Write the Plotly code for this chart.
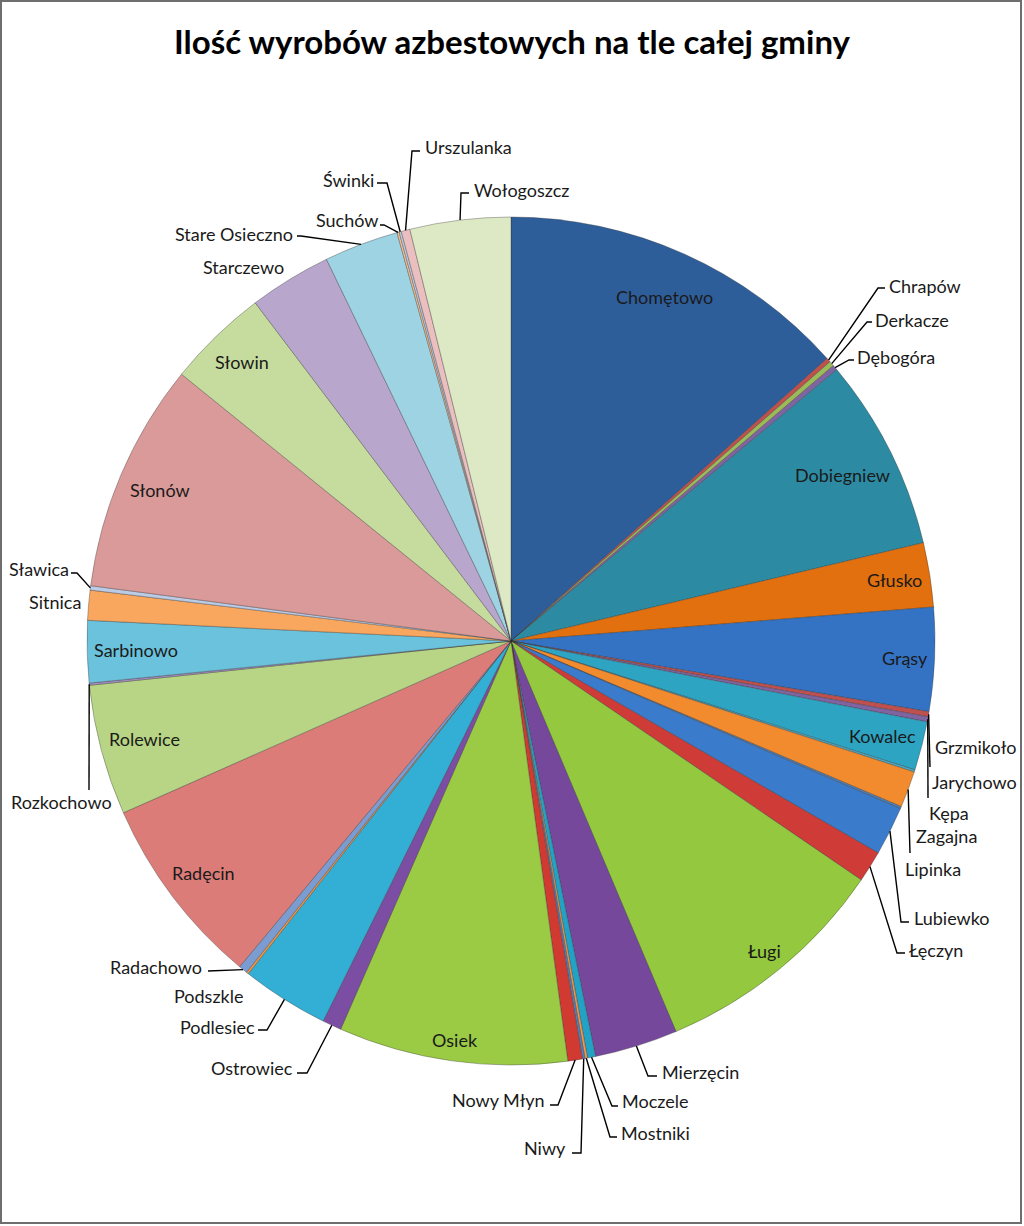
import math
import plotly.graph_objects as go

# ---------------- data ----------------
labels = [
    "Chomętowo", "Chrapów", "Derkacze", "Dębogóra", "Dobiegniew", "Głusko", "Grąsy",
    "Grzmikoło", "Jarychowo", "Kowalec", "Kępa", "Zagajna", "Lipinka", "Lubiewko",
    "Łęczyn", "Ługi", "Mierzęcin", "Moczele", "Mostniki", "Niwy", "Nowy Młyn",
    "Osiek", "Ostrowiec", "Podlesiec", "Podszkle", "Radachowo", "Radęcin", "Rolewice",
    "Rozkochowo", "Sarbinowo", "Sitnica", "Sławica", "Słonów", "Słowin", "Starczewo",
    "Stare Osieczno", "Suchów", "Świnki", "Urszulanka", "Wołogoszcz",
]
values = [
    482, 6, 7, 7, 264, 88, 142,
    7, 7, 67, 3, 50, 3, 67,
    43, 328, 114, 11, 3.5, 3.5, 20,
    314, 26, 120, 3, 12, 263, 179,
    3, 85, 41, 6, 315, 139, 113,
    102, 3, 3, 12, 138,
]
colors = [
    "#2E5E9A", "#C0504D", "#9BBB59", "#8064A2", "#2C8BA3", "#E2700F", "#3472C4",
    "#C0504D", "#8064A2", "#2DA4C2", "#4BACC6", "#F28A2E", "#4F81BD", "#3B7BCB",
    "#CF3B37", "#94C83F", "#75489C", "#22A3C6", "#F79646", "#4F81BD", "#D13A31",
    "#9BCB45", "#7B4EA3", "#33AED4", "#F7963F", "#7A9CD1", "#DC7C79", "#B7D584",
    "#A48FC3", "#6AC2DC", "#F9A75E", "#BCCCE7", "#DA9A99", "#C6DC9E", "#B8A6CC",
    "#9ED3E3", "#F9BE8E", "#BBCDE6", "#EBBFBF", "#DDE8C4",
]
title_text = "Ilość wyrobów azbestowych na tle całej gminy"

# ---------------- layout geometry (pixels) ----------------
W, H = 1024, 1226
ML, MT, D = 87, 217, 848
CX, CY, R = ML + D / 2, MT + D / 2, D / 2


def to_paper(px, py):
    return (px - ML) / D, 1 - (py - MT) / D


# inside label radial fractions
inside_pos = {
    "Chomętowo": 0.889, "Dobiegniew": 0.875, "Głusko": 0.916, "Grąsy": 0.93,
    "Kowalec": 0.904, "Ługi": 0.944, "Osiek": 0.95, "Radęcin": 0.908,
    "Rolewice": 0.895, "Sarbinowo": 0.885, "Słonów": 0.902, "Słowin": 0.914,
}

# outside labels: text position, anchor, leader points after the slice edge
outside_pos = {
    "Chrapów": (887, 286, "left", [(878, 288), (885, 288)]),
    "Derkacze": (873, 320, "left", [(867, 322), (872, 322)]),
    "Dębogóra": (855, 357, "left", [(849, 360), (854, 360)]),
    "Grzmikoło": (933, 747, "left", [(930, 767)]),
    "Jarychowo": (930, 782, "left", [(928, 798)]),
    "Kępa": (927, 813, "left", None),
    "Zagajna": (914, 836, "left", [(910, 853)]),
    "Lipinka": (903, 869, "left", None),
    "Lubiewko": (912, 918, "left", [(901, 922), (909, 922)]),
    "Łęczyn": (907, 950, "left", [(897, 953), (905, 953)]),
    "Mierzęcin": (660, 1072, "left", [(648, 1076), (657, 1076)]),
    "Moczele": (620, 1101, "left", [(612, 1106), (618, 1106)]),
    "Mostniki": (619, 1133, "left", [(610, 1137), (617, 1137)]),
    "Niwy": (568, 1148, "right", [(581, 1153), (572, 1153)]),
    "Nowy Młyn": (547, 1100, "right", [(558, 1105), (550, 1105)]),
    "Ostrowiec": (295, 1068, "right", [(307, 1073), (297, 1073)]),
    "Podlesiec": (257, 1027, "right", [(267, 1030), (258, 1030)]),
    "Podszkle": (208, 996, "center", None),
    "Radachowo": (204, 967, "right", [(208, 971)]),
    "Rozkochowo": (61, 802, "center", [(89, 790)]),
    "Sitnica": (83, 602, "right", None),
    "Sławica": (71, 569, "right", [(77, 573), (71, 573)]),
    "Starczewo": (243, 267, "center", None),
    "Stare Osieczno": (295, 234, "right", [(301, 236), (297, 236)]),
    "Suchów": (380, 220, "right", [(384, 225), (380, 225)]),
    "Świnki": (376, 180, "right", [(387, 183), (377, 183)]),
    "Urszulanka": (423, 147, "left", [(412, 151), (420, 151)]),
    "Wołogoszcz": (472, 190, "left", [(461, 193), (469, 193)]),
}

label_font = dict(family="Lato, Calibri, sans-serif", size=18, color="#1a1a1a")

fig = go.Figure(go.Pie(
    labels=labels,
    values=values,
    sort=False,
    direction="clockwise",
    rotation=0,
    textinfo="none",
    hoverinfo="label+value+percent",
    marker=dict(colors=colors, line=dict(color="rgba(50,50,50,0.35)", width=1)),
    domain=dict(x=[0, 1], y=[0, 1]),
    showlegend=False,
))

annotations = []
shapes = []
total = float(sum(values))
cum = 0.0
for name, v in zip(labels, values):
    mid = math.radians((cum + v / 2) / total * 360.0)
    cum += v
    if name in inside_pos:
        f = inside_pos[name]
        px = CX + f * R * math.sin(mid)
        py = CY - f * R * math.cos(mid)
        x, y = to_paper(px, py)
        annotations.append(dict(x=x, y=y, xref="paper", yref="paper", text=name,
                                showarrow=False, xanchor="center", yanchor="middle",
                                font=label_font))
    elif name in outside_pos:
        lx, ly, anchor, pts = outside_pos[name]
        x, y = to_paper(lx, ly)
        annotations.append(dict(x=x, y=y, xref="paper", yref="paper", text=name,
                                showarrow=False, xanchor=anchor, yanchor="middle",
                                font=label_font))
        if pts:
            ex = CX + R * math.sin(mid)
            ey = CY - R * math.cos(mid)
            path_pts = [to_paper(ex, ey)] + [to_paper(a, b) for a, b in pts]
            path = "M " + " L ".join(f"{a:.5f},{b:.5f}" for a, b in path_pts)
            shapes.append(dict(type="path", path=path, xref="paper", yref="paper",
                               line=dict(color="#000000", width=1.4)))

# chart frame
fx0, fy0 = to_paper(1, 1)
fx1, fy1 = to_paper(1021, 1223)
shapes.append(dict(type="rect", xref="paper", yref="paper", x0=fx0, y0=fy0, x1=fx1, y1=fy1,
                   line=dict(color="#6E6E6E", width=2), fillcolor="rgba(0,0,0,0)", layer="below"))

fig.update_layout(
    width=W, height=H,
    margin=dict(l=ML, r=W - ML - D, t=MT, b=H - MT - D),
    paper_bgcolor="white",
    plot_bgcolor="white",
    title=dict(text="<b>" + title_text + "</b>", x=0.5, xanchor="center",
               y=1 - 42 / H, yanchor="middle", yref="container",
               font=dict(family="Lato, Calibri, sans-serif", size=33, color="#000000")),
    annotations=annotations,
    shapes=shapes,
)

fig.write_html("out.html")
